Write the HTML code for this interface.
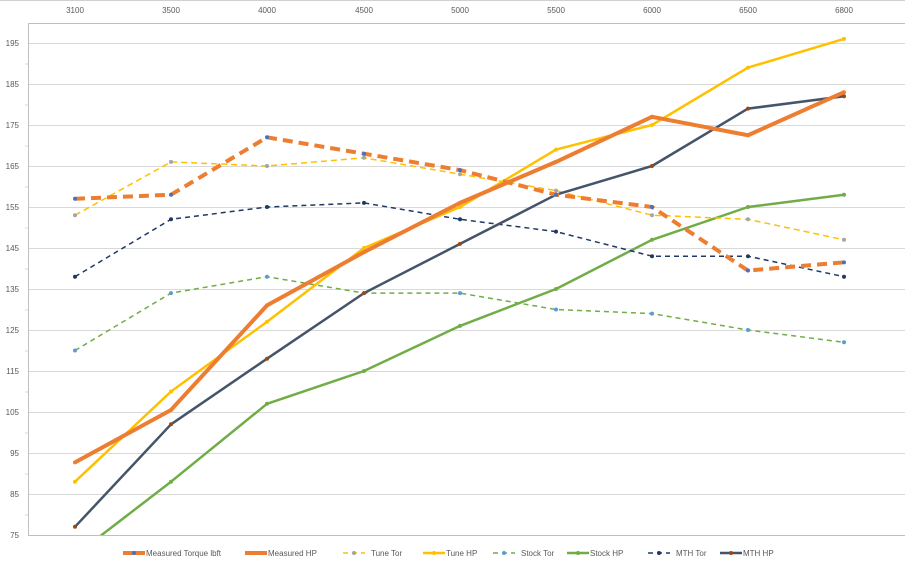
<!DOCTYPE html>
<html><head><meta charset="utf-8"><style>
html,body{margin:0;padding:0;background:#fff;}
svg{display:block;font-family:"Liberation Sans",sans-serif;}
</style></head><body>
<svg width="905" height="568" viewBox="0 0 905 568">
<defs><clipPath id="c"><rect x="28" y="23" width="877" height="512"/></clipPath></defs>
<line x1="0" y1="0.5" x2="905" y2="0.5" stroke="#d0d0d0"/>
<g id="grid" stroke="#d9d9d9" stroke-width="1"></g>
<line x1="28.5" y1="23" x2="28.5" y2="535" stroke="#bfbfbf"/>
<line x1="28" y1="23.5" x2="905" y2="23.5" stroke="#bfbfbf"/>
<line x1="28" y1="535.5" x2="905" y2="535.5" stroke="#bfbfbf"/>
<g id="ylab" font-size="8" fill="#595959" text-anchor="end"></g>
<g id="xlab" font-size="8" fill="#595959" text-anchor="middle"></g>
<g id="series" clip-path="url(#c)"></g>
<g id="legend" font-size="8" fill="#595959"></g>
</svg>
<script>
var NS="http://www.w3.org/2000/svg";
function el(p,t,a,txt){var e=document.createElementNS(NS,t);for(var k in a)e.setAttribute(k,a[k]);if(txt!=null)e.textContent=txt;document.getElementById(p).appendChild(e);return e;}
var X=[75,171,267,364,460,556,652,748,844],XL=["3100","3500","4000","4500","5000","5500","6000","6500","6800"];
function Y(v){return 535-(v-75)*4.1;}
for(var v=85;v<=195;v+=10){el("grid","line",{x1:28,x2:905,y1:Y(v)+.5,y2:Y(v)+.5});}
for(var v=75;v<=195;v+=10){el("ylab","text",{x:19,y:Y(v)+3},v);}
for(var v=80;v<=190;v+=10){el("grid","line",{x1:25,x2:28,y1:Y(v)+.5,y2:Y(v)+.5,stroke:"#d9d9d9"});}
for(var i=0;i<9;i++)el("xlab","text",{x:X[i],y:13},XL[i]);
var S=[
["Stock Tor","#70ad47",1.5,"5,4",[120,134,138,134,134,130,129,125,122],"#5b9bd5"],
["Stock HP","#70ad47",2.5,null,[70,88,107,115,126,135,147,155,158],"#70ad47"],
["MTH Tor","#1f3864",1.5,"5,4",[138,152,155,156,152,149,143,143,138],"#1f3864"],
["Tune Tor","#ffc000",1.5,"6,4",[153,166,165,167,163,159,153,152,147],"#a5a5a5"],
["MTH HP","#44546a",2.5,null,[77,102,118,134,146,158,165,179,182],"#9e480e"],
["Tune HP","#ffc000",2.5,null,[88,110,127,145,155,169,175,189,196],"#ffc000"],
["Measured HP","#ed7d31",4,null,[92.7,105.5,131,144,156,166,177,172.5,183],"#ed7d31"],
["Measured Torque lbft","#ed7d31",4,"10,6",[157,158,172,168,164,158,155,139.5,141.5],"#4472c4"]];
S.forEach(function(s){var p=s[4].map(function(v,i){return X[i]+","+Y(v);}).join(" ");
var a={points:p,fill:"none",stroke:s[1],"stroke-width":s[2],"stroke-linejoin":"round"};if(s[3])a["stroke-dasharray"]=s[3];
el("series","polyline",a);s[4].forEach(function(v,i){el("series","circle",{cx:X[i],cy:Y(v),r:2,fill:s[5]});});});
var L=[["Measured Torque lbft",123,"#ed7d31",4,"#4472c4",1],["Measured HP",245,"#ed7d31",4,"#ed7d31",0],["Tune Tor",343,"#ffc000",1.5,"#a5a5a5",1],["Tune HP",423,"#ffc000",2.5,"#ffc000",0],["Stock Tor",493,"#70ad47",1.5,"#5b9bd5",1],["Stock HP",567,"#70ad47",2.5,"#70ad47",0],["MTH Tor",648,"#1f3864",1.5,"#1f3864",1],["MTH HP",720,"#44546a",2.5,"#9e480e",0]];
L.forEach(function(l){var a={x1:l[1],x2:l[1]+22,y1:553,y2:553,stroke:l[2],"stroke-width":l[3]};if(l[5]&&l[3]<3)a["stroke-dasharray"]="5,4";
el("legend","line",a);el("legend","circle",{cx:l[1]+11,cy:553,r:2,fill:l[4]});el("legend","text",{x:l[1]+(l[5]&&l[3]<3?28:23),y:556},l[0]);});
</script>
</body></html>
